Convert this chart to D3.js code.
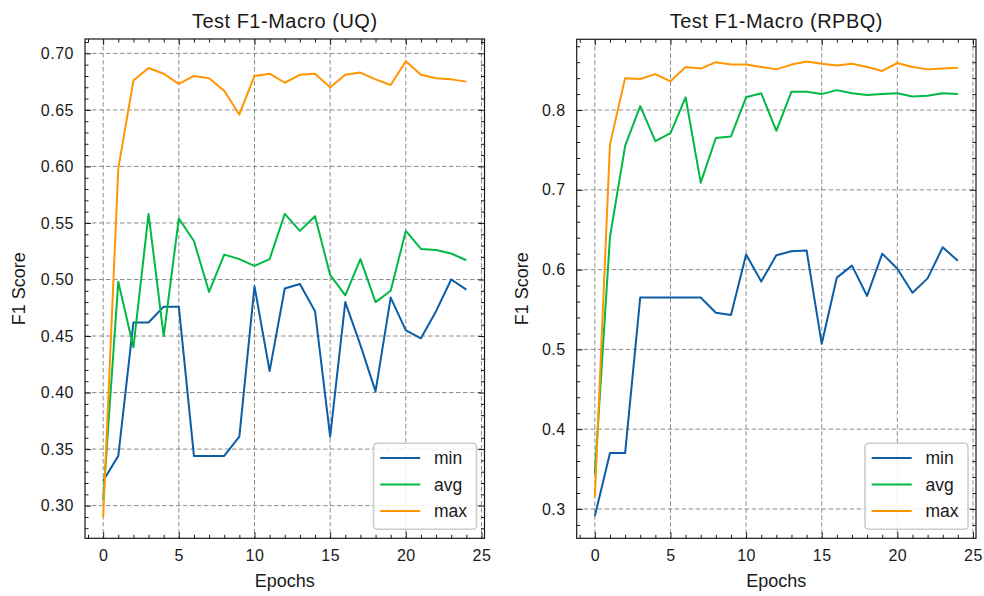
<!DOCTYPE html>
<html><head><meta charset="utf-8">
<script src="https://cdn.jsdelivr.net/npm/d3@7"></script>
<style>
body{margin:0;background:#fff}
svg text{font-family:"Liberation Sans",Arial,sans-serif;fill:#1a1a1a}
</style>
</head><body>
<svg id="c" width="984" height="596"></svg>
<script>
// ---------- data ----------
const epochs = [0,1,2,3,4,5,6,7,8,9,10,11,12,13,14,15,16,17,18,19,20,21,22,23,24];

const uqMin = [0.322,0.344,0.462,0.462,0.476,0.476,0.344,0.344,0.344,0.361,0.494,0.419,0.492,0.496,0.472,0.361,0.480,0.442,0.401,0.484,0.455,0.448,0.472,0.500,0.491];
const uqAvg = [0.305,0.498,0.440,0.558,0.450,0.554,0.534,0.489,0.522,0.518,0.512,0.518,0.558,0.543,0.556,0.504,0.486,0.518,0.480,0.490,0.543,0.527,0.526,0.523,0.517];
const uqMax = [0.290,0.598,0.676,0.687,0.682,0.673,0.680,0.678,0.667,0.646,0.680,0.682,0.674,0.681,0.682,0.670,0.681,0.683,0.677,0.672,0.693,0.681,0.678,0.677,0.675];

const rpbqMin = [0.291,0.370,0.370,0.565,0.565,0.565,0.565,0.565,0.546,0.543,0.619,0.585,0.618,0.623,0.624,0.507,0.590,0.605,0.567,0.620,0.601,0.571,0.589,0.628,0.611];
const rpbqAvg = [0.344,0.641,0.755,0.805,0.761,0.771,0.816,0.709,0.765,0.767,0.816,0.821,0.774,0.823,0.823,0.820,0.825,0.821,0.819,0.820,0.821,0.817,0.818,0.821,0.820];
const rpbqMax = [0.315,0.757,0.840,0.839,0.845,0.836,0.854,0.852,0.860,0.857,0.857,0.854,0.851,0.857,0.861,0.858,0.856,0.858,0.854,0.849,0.859,0.854,0.851,0.852,0.853];

const seriesNames = ["min","avg","max"];
const seriesColors = ["#0C5DA5","#00B945","#FF9500"];
const titles = ["Test F1-Macro (UQ)","Test F1-Macro (RPBQ)"];
const xLabel = "Epochs";
const yLabel = "F1 Score";
const xTicks = [0,5,10,15,20,25];
const yTicksUQ = [0.30,0.35,0.40,0.45,0.50,0.55,0.60,0.65,0.70];
const yTicksRPBQ = [0.3,0.4,0.5,0.6,0.7,0.8];

// ---------- layout ----------
const svg = d3.select("#c");
const panels = [
  {left:85, right:484.5, top:39, bottom:538.3, yDomain:[0.2711,0.7127], yTicks:yTicksUQ, yMinorStep:0.01, fmt:d3.format(".2f"),
   series:[uqMin,uqAvg,uqMax], title:titles[0], ylabelX:25},
  {left:576.7, right:976, top:39.3, bottom:538.3, yDomain:[0.2632,0.8887], yTicks:yTicksRPBQ, yMinorStep:0.02, fmt:d3.format(".1f"),
   series:[rpbqMin,rpbqAvg,rpbqMax], title:titles[1], ylabelX:527.5}
];

const MAJ = 6, MIN = 3.5;

panels.forEach((p, pi) => {
  const x = d3.scaleLinear().domain([-1.2, 25.2]).range([p.left, p.right]);
  const y = d3.scaleLinear().domain(p.yDomain).range([p.bottom, p.top]);
  const g = svg.append("g");
  const W = p.right - p.left, H = p.bottom - p.top;

  // grid
  const grid = g.append("g").attr("stroke","#808080").attr("stroke-width",0.9).attr("stroke-dasharray","4.5,2.5");
  grid.selectAll("line.gx").data(xTicks).join("line")
    .attr("x1", d=>x(d)).attr("x2", d=>x(d)).attr("y1", p.top).attr("y2", p.bottom);
  grid.selectAll("line.gy").data(p.yTicks).join("line")
    .attr("y1", d=>y(d)).attr("y2", d=>y(d)).attr("x1", p.left).attr("x2", p.right);

  // minor tick values
  const xMinor = d3.range(-1, 26, 1).filter(v => v % 5 !== 0);
  const yMinor = d3.range(Math.ceil(p.yDomain[0]/p.yMinorStep)*p.yMinorStep, p.yDomain[1], p.yMinorStep)
      .filter(v => !p.yTicks.some(t => Math.abs(t - v) < 1e-6));

  function styleAxis(sel){
    sel.select(".domain").remove();
    sel.selectAll(".tick line").attr("stroke","#1a1a1a").attr("stroke-width",1);
    sel.selectAll("text").attr("font-size",16).attr("fill","#1a1a1a").attr("letter-spacing","0.5px");
  }
  // bottom
  g.append("g").attr("transform",`translate(0,${p.bottom})`)
    .call(d3.axisBottom(x).tickValues(xTicks).tickSize(-MAJ).tickPadding(11.7).tickFormat(d3.format("d"))).call(styleAxis);
  g.append("g").attr("transform",`translate(0,${p.bottom})`)
    .call(d3.axisBottom(x).tickValues(xMinor).tickSize(-MIN).tickFormat("")).call(styleAxis);
  // top
  g.append("g").attr("transform",`translate(0,${p.top})`)
    .call(d3.axisTop(x).tickValues(xTicks).tickSize(-MAJ).tickFormat("")).call(styleAxis);
  g.append("g").attr("transform",`translate(0,${p.top})`)
    .call(d3.axisTop(x).tickValues(xMinor).tickSize(-MIN).tickFormat("")).call(styleAxis);
  // left
  g.append("g").attr("transform",`translate(${p.left},0)`)
    .call(d3.axisLeft(y).tickValues(p.yTicks).tickSize(-MAJ).tickPadding(11).tickFormat(p.fmt)).call(styleAxis);
  g.append("g").attr("transform",`translate(${p.left},0)`)
    .call(d3.axisLeft(y).tickValues(yMinor).tickSize(-MIN).tickFormat("")).call(styleAxis);
  // right
  g.append("g").attr("transform",`translate(${p.right},0)`)
    .call(d3.axisRight(y).tickValues(p.yTicks).tickSize(-MAJ).tickFormat("")).call(styleAxis);
  g.append("g").attr("transform",`translate(${p.right},0)`)
    .call(d3.axisRight(y).tickValues(yMinor).tickSize(-MIN).tickFormat("")).call(styleAxis);

  // lines
  const clipId = "clip" + pi;
  svg.append("clipPath").attr("id", clipId).append("rect")
    .attr("x", p.left).attr("y", p.top).attr("width", W).attr("height", H);
  const line = d3.line().x((d,i)=>x(epochs[i])).y(d=>y(d));
  const lg = g.append("g").attr("clip-path", `url(#${clipId})`);
  p.series.forEach((s, si) => {
    lg.append("path").datum(s).attr("d", line)
      .attr("fill","none").attr("stroke", seriesColors[si]).attr("stroke-width",2)
      .attr("stroke-linejoin","round");
  });

  // frame
  g.append("rect").attr("x", p.left).attr("y", p.top).attr("width", W).attr("height", H)
    .attr("fill","none").attr("stroke","#1a1a1a").attr("stroke-width",1.2);

  // legend
  const lw = 103, lh = 86;
  const lx = p.right - 8 - lw, ly = p.bottom - 9 - lh;
  const leg = g.append("g").attr("transform", `translate(${lx},${ly})`);
  leg.append("rect").attr("width", lw).attr("height", lh).attr("rx", 3.5)
    .attr("fill","#fff").attr("fill-opacity",0.85).attr("stroke","#cccccc").attr("stroke-width",1.6);
  seriesNames.forEach((n, si) => {
    const yy = 14.8 + si * 26.5;
    leg.append("line").attr("x1", 6.7).attr("x2", 46.7).attr("y1", yy).attr("y2", yy)
      .attr("stroke", seriesColors[si]).attr("stroke-width", 2);
    leg.append("text").attr("x", 60.5).attr("y", yy + 6.2).attr("font-size", 17.5).text(n);
  });

  // titles and labels
  g.append("text").attr("x", (p.left + p.right)/2).attr("y", 28).attr("text-anchor","middle")
    .attr("font-size", 20).attr("letter-spacing","0.5px").text(p.title);
  g.append("text").attr("x", (p.left + p.right)/2).attr("y", 587).attr("text-anchor","middle")
    .attr("font-size", 18).text(xLabel);
  g.append("text").attr("transform", `translate(${p.ylabelX},${(p.top + p.bottom)/2}) rotate(-90)`)
    .attr("text-anchor","middle").attr("font-size", 18).text(yLabel);
});
</script>
</body></html>
